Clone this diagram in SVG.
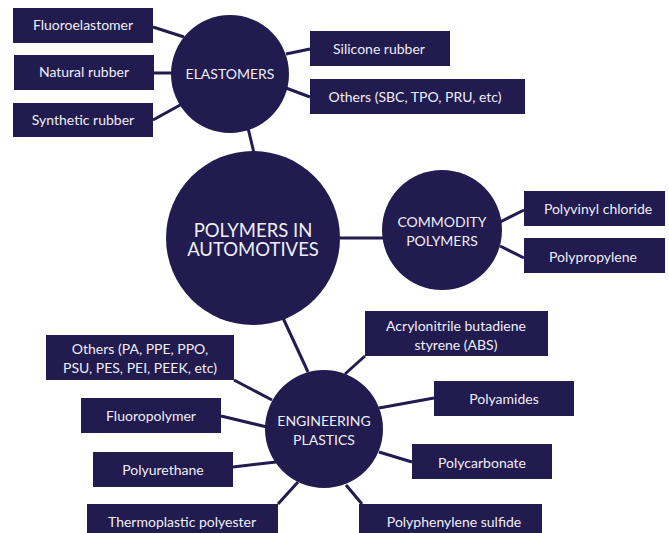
<svg xmlns="http://www.w3.org/2000/svg" width="669" height="533" viewBox="0 0 669 533">
<style>
.n{fill:#211b50}
.t{font-family:Lato,"Open Sans","Liberation Sans",sans-serif;font-size:14px;fill:#f0eef5;text-anchor:middle}
.c{font-size:14px}
.m{font-size:18.5px}
#connectors line{stroke:#211b50;stroke-width:3}
</style>
<rect width="669" height="533" fill="#fff"/>
<g id="connectors">
<line x1="153" y1="27" x2="184" y2="37"/>
<line x1="154" y1="73" x2="172" y2="73"/>
<line x1="153" y1="120" x2="182" y2="104"/>
<line x1="310" y1="49" x2="286" y2="54"/>
<line x1="310" y1="97" x2="286" y2="88"/>
<line x1="248" y1="128" x2="254" y2="153"/>
<line x1="338" y1="238" x2="384" y2="238"/>
<line x1="500" y1="222" x2="524" y2="210"/>
<line x1="500" y1="246" x2="524" y2="258"/>
<line x1="283" y1="318" x2="308" y2="372"/>
<line x1="234" y1="380" x2="272" y2="400"/>
<line x1="221" y1="416" x2="267" y2="427"/>
<line x1="233" y1="467" x2="276" y2="462"/>
<line x1="278" y1="504" x2="298" y2="482"/>
<line x1="365" y1="356" x2="345" y2="374"/>
<line x1="434" y1="398" x2="379" y2="408"/>
<line x1="412" y1="462" x2="379" y2="452"/>
<line x1="362" y1="504" x2="346" y2="485"/>
</g>
<g id="main"><circle class="n" cx="253" cy="238" r="87"/><text class="t m" x="253" y="237">POLYMERS IN</text><text class="t m" x="253" y="256">AUTOMOTIVES</text></g>
<g id="elastomers"><circle class="n" cx="230" cy="74" r="59"/><text class="t c" x="230" y="79">ELASTOMERS</text></g>
<g id="commodity"><circle class="n" cx="442" cy="230" r="60"/><text class="t c" x="442" y="227">COMMODITY</text><text class="t c" x="442" y="246">POLYMERS</text></g>
<g id="engineering"><circle class="n" cx="324" cy="429" r="59"/><text class="t c" x="324" y="426">ENGINEERING</text><text class="t c" x="324" y="445">PLASTICS</text></g>
<g id="fluoroelastomer"><rect class="n" x="13" y="8" width="140" height="35"/><text class="t" x="83" y="30">Fluoroelastomer</text></g>
<g id="natural"><rect class="n" x="14" y="55" width="140" height="35"/><text class="t" x="84" y="77">Natural rubber</text></g>
<g id="synthetic"><rect class="n" x="13" y="103" width="140" height="34"/><text class="t" x="83" y="125">Synthetic rubber</text></g>
<g id="silicone"><rect class="n" x="310" y="31" width="140" height="35"/><text class="t" x="379" y="54">Silicone rubber</text></g>
<g id="others-elastomers"><rect class="n" x="310" y="79" width="215" height="35"/><text class="t" x="415" y="102">Others (SBC, TPO, PRU, etc)</text></g>
<g id="pvc"><rect class="n" x="524" y="191" width="141" height="35"/><text class="t" x="598" y="214">Polyvinyl chloride</text></g>
<g id="pp"><rect class="n" x="524" y="238" width="141" height="35"/><text class="t" x="593" y="262">Polypropylene</text></g>
<g id="abs"><rect class="n" x="365" y="311" width="183" height="45"/><text class="t" x="456" y="331">Acrylonitrile butadiene</text><text class="t" x="456" y="350">styrene (ABS)</text></g>
<g id="polyamides"><rect class="n" x="434" y="381" width="140" height="35"/><text class="t" x="504" y="404">Polyamides</text></g>
<g id="polycarbonate"><rect class="n" x="412" y="444" width="140" height="35"/><text class="t" x="482" y="468">Polycarbonate</text></g>
<g id="pps"><rect class="n" x="359" y="504" width="183" height="35"/><text class="t" x="454" y="527">Polyphenylene sulfide</text></g>
<g id="others-eng"><rect class="n" x="46" y="335" width="188" height="45"/><text class="t" x="140" y="354">Others (PA, PPE, PPO,</text><text class="t" x="140" y="373">PSU, PES, PEI, PEEK, etc)</text></g>
<g id="fluoropolymer"><rect class="n" x="81" y="398" width="140" height="35"/><text class="t" x="151" y="421">Fluoropolymer</text></g>
<g id="polyurethane"><rect class="n" x="93" y="452" width="140" height="35"/><text class="t" x="163" y="475">Polyurethane</text></g>
<g id="thermoplastic"><rect class="n" x="87" y="504" width="191" height="35"/><text class="t" x="182" y="527">Thermoplastic polyester</text></g>
</svg>
